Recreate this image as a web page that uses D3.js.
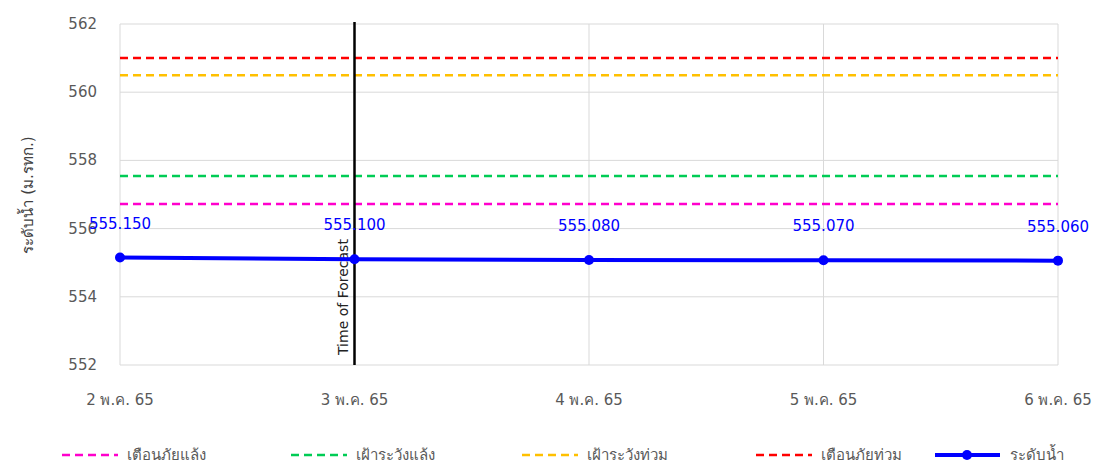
<!DOCTYPE html>
<html><head><meta charset="utf-8">
<script src="https://cdn.jsdelivr.net/npm/d3@7/dist/d3.min.js"></script>
<style>body{margin:0;background:#fff;font-family:Tahoma,"DejaVu Sans","Noto Sans",sans-serif;}</style>
</head><body><svg id="c" width="1100" height="463"></svg>
<script>
const categories = ["2 พ.ค. 65","3 พ.ค. 65","4 พ.ค. 65","5 พ.ค. 65","6 พ.ค. 65"];
const waterLevel = [555.150, 555.100, 555.080, 555.070, 555.060];
const yTicks = [552, 554, 556, 558, 560, 562];
const thresholdNames = ["เตือนภัยแล้ง","เฝ้าระวังแล้ง","เฝ้าระวังท่วม","เตือนภัยท่วม"];
const thresholdValues = [556.72, 557.54, 560.5, 561.0];
const thresholdColors = ["#ff00cc","#00cc55","#ffc000","#ff0000"];
const seriesName = "ระดับน้ำ";
const forecastCategory = "3 พ.ค. 65";

const svg = d3.select("#c");
const L = 120, R = 1058, T = 24, B = 365;
const x = d3.scalePoint().domain(categories).range([L, R]);
const y = d3.scaleLinear().domain([552, 562]).range([B, T]);

// gridlines
svg.append("g").selectAll("line").data(yTicks).join("line")
  .attr("x1", L).attr("x2", R).attr("y1", d => y(d)).attr("y2", d => y(d))
  .attr("stroke", "#d9d9d9").attr("stroke-width", 1);
svg.append("g").selectAll("line").data(categories).join("line")
  .attr("x1", d => x(d)).attr("x2", d => x(d)).attr("y1", T).attr("y2", B)
  .attr("stroke", "#d9d9d9").attr("stroke-width", 1);

// y tick labels
svg.append("g").selectAll("text").data(yTicks).join("text")
  .attr("x", 97).attr("y", d => y(d) + 5).attr("text-anchor", "end")
  .attr("font-size", 15).attr("fill", "#595959").text(d => d);

// x tick labels
svg.append("g").selectAll("text").data(categories).join("text")
  .attr("x", d => x(d)).attr("y", 405).attr("text-anchor", "middle")
  .attr("font-size", 15).attr("fill", "#595959").text(d => d);

// y axis title
svg.append("text").attr("transform", "translate(33,195) rotate(-90)")
  .attr("text-anchor", "middle").attr("font-size", 15).attr("fill", "#404040")
  .text("ระดับน้ำ (ม.รทก.)");

// thresholds
thresholdValues.forEach((v, i) => {
  svg.append("line").attr("x1", L).attr("x2", R).attr("y1", y(v)).attr("y2", y(v))
    .attr("stroke", thresholdColors[i]).attr("stroke-width", 2.5).attr("stroke-dasharray", "8,5");
});

// forecast line
svg.append("line").attr("x1", x(forecastCategory)).attr("x2", x(forecastCategory))
  .attr("y1", 22).attr("y2", B).attr("stroke", "#000").attr("stroke-width", 2.5);
svg.append("text").attr("transform", `translate(${x(forecastCategory) - 7},${355}) rotate(-90)`)
  .attr("font-size", 14).attr("fill", "#222").text("Time of Forecast");

// water level series
const pts = categories.map((c, i) => [x(c), y(waterLevel[i])]);
svg.append("path").attr("d", d3.line()(pts)).attr("fill", "none")
  .attr("stroke", "#0000ff").attr("stroke-width", 4);
svg.append("g").selectAll("circle").data(pts).join("circle")
  .attr("cx", d => d[0]).attr("cy", d => d[1]).attr("r", 5).attr("fill", "#0000ff");
svg.append("g").selectAll("text").data(categories).join("text")
  .attr("x", d => x(d)).attr("y", (d, i) => y(waterLevel[i]) - 29)
  .attr("text-anchor", "middle").attr("font-size", 15).attr("fill", "#0000ff")
  .text((d, i) => waterLevel[i].toFixed(3));

// legend
const legX = [62, 291, 522, 756];
thresholdNames.forEach((n, i) => {
  svg.append("line").attr("x1", legX[i]).attr("x2", legX[i] + 56).attr("y1", 455).attr("y2", 455)
    .attr("stroke", thresholdColors[i]).attr("stroke-width", 2.5).attr("stroke-dasharray", "8,5");
  svg.append("text").attr("x", legX[i] + 65).attr("y", 460).attr("font-size", 15)
    .attr("fill", "#595959").text(n);
});
svg.append("line").attr("x1", 935).attr("x2", 1000).attr("y1", 455).attr("y2", 455)
  .attr("stroke", "#0000ff").attr("stroke-width", 4);
svg.append("circle").attr("cx", 967).attr("cy", 455).attr("r", 5).attr("fill", "#0000ff");
svg.append("text").attr("x", 1010).attr("y", 460).attr("font-size", 15)
  .attr("fill", "#595959").text(seriesName);
</script></body></html>
